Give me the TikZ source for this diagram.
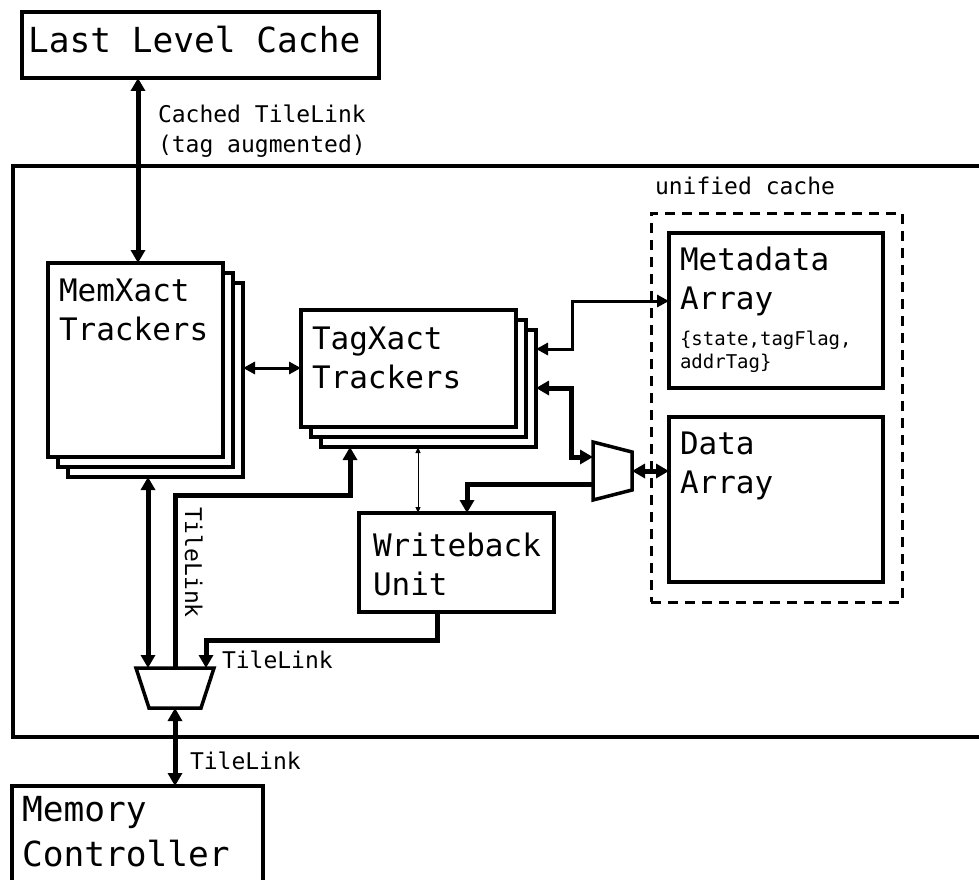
\documentclass[tikz,border=0pt]{standalone}
\usepackage{fontspec}
\setmainfont{DejaVu Sans Mono}
\usetikzlibrary{arrows.meta,calc}
\newcommand\fbig{\fontsize{34.5}{45}\selectfont}
\newcommand\fmid{\fontsize{31}{38.5}\selectfont}
\newcommand\fsml{\fontsize{23}{30}\selectfont}
\newcommand\ftny{\fontsize{19}{23}\selectfont}
\begin{document}
\begin{tikzpicture}[x=1pt,y=-1pt,
  bx/.style={draw,line width=4pt,fill=white,inner sep=0pt,outer sep=0pt,anchor=north west},
  lbl/.style={anchor=base west,inner sep=0pt,outer sep=0pt,align=left},
  thk/.style={line width=5pt,>={Triangle[length=13pt,width=14pt]}},
  med/.style={line width=3pt,>={Triangle[length=12pt,width=12pt]}},
  thn/.style={line width=1pt,>={Triangle[length=6pt,width=5pt]}},
  muxs/.style={draw,line width=3.5pt,fill=white,line join=miter}]
\useasboundingbox (0,0) rectangle (979,880);
\clip (0,0) rectangle (979,880);
% helper coordinates
\coordinate (c138) at (138,0);
\coordinate (c148) at (148,0);
\coordinate (c175) at (175,0);
\coordinate (c418) at (418,0);
\coordinate (c437) at (437,0);
\coordinate (c467) at (467,0);
\coordinate (r301) at (0,301);
\coordinate (r349) at (0,349);
\coordinate (r368) at (0,368);
\coordinate (r388) at (0,388);
\coordinate (r484) at (0,484);
\coordinate (b1) at (572,301);
\coordinate (b2) at (571,457);
\coordinate (b3) at (350,495);
\coordinate (b4) at (206,640);
% outer box
\node[bx,fill=none,minimum width=1000pt,minimum height=571pt] (outer) at (13,166) {};
% top / bottom boxes
\node[bx,minimum width=357pt,minimum height=66pt] (llc) at (22,12) {};
\node[lbl,font=\fbig] (llct) at (28,53) {Last Level Cache};
\node[bx,minimum width=251pt,minimum height=120pt] (mc) at (12,786) {};
\node[lbl,font=\fbig] (mct) at (22,866) {Memory\\Controller};
% MemXact stack
\node[bx,minimum width=175pt,minimum height=194pt] (memx2) at (68,283) {};
\node[bx,minimum width=175pt,minimum height=194pt] (memx1) at (58,273) {};
\node[bx,minimum width=175pt,minimum height=194pt] (memx0) at (48,263) {};
\node[lbl,font=\fmid] (memxt) at (59,340) {MemXact\\Trackers};
% TagXact stack
\node[bx,minimum width=215pt,minimum height=117pt] (tagx2) at (321,330) {};
\node[bx,minimum width=215pt,minimum height=117pt] (tagx1) at (311,320) {};
\node[bx,minimum width=215pt,minimum height=117pt] (tagx0) at (301,310) {};
\node[lbl,font=\fmid] (tagxt) at (312,388) {TagXact\\Trackers};
% unified cache
\node[draw,line width=3pt,dash pattern=on 10pt off 7pt,inner sep=0pt,outer sep=0pt,anchor=north west,minimum width=251pt,minimum height=389pt] (uc) at (651,213) {};
\node[lbl,font=\fsml] (uct) at (655,194) {unified cache};
\node[bx,minimum width=214pt,minimum height=155pt] (meta) at (669,233) {};
\node[lbl,font=\fmid] (metat) at (680,309) {Metadata\\Array};
\node[lbl,font=\ftny] (metas) at (680,368) {\{state,tagFlag,\\addrTag\}};
\node[bx,minimum width=214pt,minimum height=165pt] (data) at (669,417) {};
\node[lbl,font=\fmid] (datat) at (680,493) {Data\\Array};
% writeback
\node[bx,minimum width=195pt,minimum height=99pt] (wb) at (359,513) {};
\node[lbl,font=\fmid] (wbt) at (373,595) {Writeback\\Unit};
% muxes
\node[inner sep=0pt,outer sep=0pt,minimum width=78pt,minimum height=40pt] (mux1) at (175,688) {};
\draw[muxs] (mux1.north west) -- (mux1.north east) -- ([xshift=-13pt]mux1.south east) -- ([xshift=13pt]mux1.south west) -- cycle;
\node[inner sep=0pt,outer sep=0pt,minimum width=39pt,minimum height=58pt] (mux2) at (612.5,471) {};
\draw[muxs] (mux2.north west) -- ([yshift=-10pt]mux2.north east) -- ([yshift=10pt]mux2.south east) -- (mux2.south west) -- cycle;
% connectors
\draw[thk,<->] (llc.south -| c138) -- (memx0.north -| c138);
\node[lbl,font=\fsml] (cachedt) at (158,152) {Cached TileLink\\(tag augmented)};
\draw[med,<->] (memx2.east |- r368) -- (tagx0.west |- r368);
\draw[med,<->] (tagx2.east |- r349) -| (b1) -- (meta.west |- b1);
\draw[thk,<->] (tagx2.east |- r388) -| (b2) -- (mux2.west |- b2);
\draw[thk,<->] (mux2.east) -- (data.west |- mux2.east);
\draw[thk,->] (mux2.west |- r484) -| (wb.north -| c467);
\draw[thn,<->] (tagx2.south -| c418) -- (wb.north -| c418);
\draw[thk,<->] (memx2.south -| c148) -- (mux1.north -| c148);
\draw[thk,->] (mux1.north -| c175) |- (b3) -- (tagx2.south -| b3);
\node[lbl,font=\fsml,rotate=-90] (tl1) at (185,507) {TileLink};
\draw[thk,->] (wb.south -| c437) |- (b4) -- (mux1.north -| b4);
\node[lbl,font=\fsml] (tl2) at (222,668) {TileLink};
\draw[thk,<->] (mux1.south) -- (mc.north -| mux1.south);
\node[lbl,font=\fsml] (tl3) at (190,769) {TileLink};
\end{tikzpicture}
\end{document}
